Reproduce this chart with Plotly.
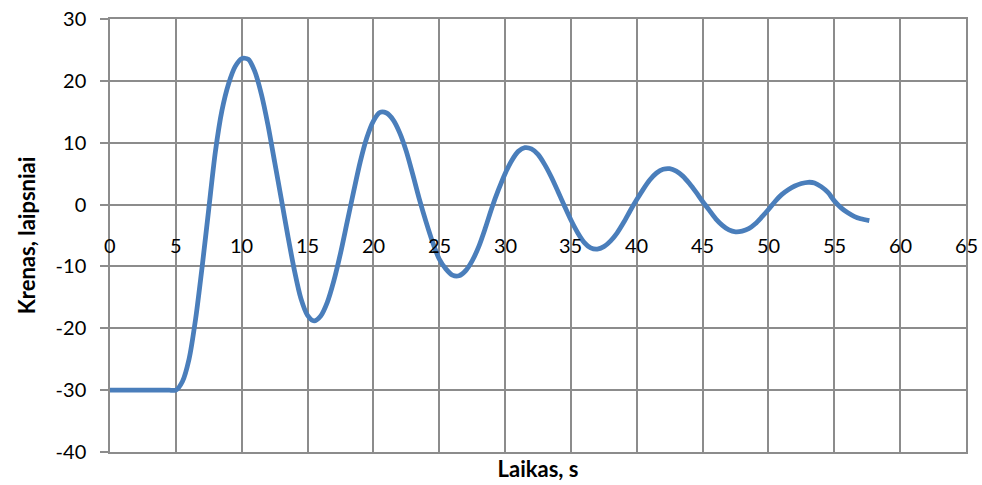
import plotly.graph_objects as go

# Heel angle over time (degrees) for a damped roll oscillation, sampled every 0.5 s
time_s = [0, 1, 2, 3, 4, 4.5, 5,
          5.5, 6, 6.5, 7, 7.5, 8, 8.5, 9, 9.5, 10,
          10.5, 11, 11.5, 12, 12.5, 13, 13.5, 14, 14.5, 15,
          15.5, 16, 16.5, 17, 17.5, 18, 18.5, 19, 19.5, 20,
          20.5, 21, 21.5, 22, 22.5, 23, 23.5, 24, 24.5, 25,
          25.5, 26, 26.5, 27, 27.5, 28, 28.5, 29, 29.5, 30,
          30.5, 31, 31.5, 32, 32.5, 33, 33.5, 34, 34.5, 35,
          35.5, 36, 36.5, 37, 37.5, 38, 38.5, 39, 39.5, 40,
          40.5, 41, 41.5, 42, 42.5, 43, 43.5, 44, 44.5, 45,
          45.5, 46, 46.5, 47, 47.5, 48, 48.5, 49, 49.5, 50,
          50.5, 51, 51.5, 52, 52.5, 53, 53.5, 54, 54.5, 55,
          55.5, 56, 56.5, 57, 57.66]
heel_deg = [-30, -30, -30, -30, -30, -30, -30,
            -28.6, -25, -18.5, -10, -0.7, 8.5, 15.2, 19.5, 22.3, 23.6,
            23.5, 21.5, 17.8, 12.8, 6.9, 1.0, -5.0, -10.6, -15.2, -17.9,
            -18.8, -18.0, -15.8, -12.3, -7.9, -2.9, 2.1, 6.9, 10.8, 13.5,
            14.9, 14.8, 13.7, 11.6, 8.6, 4.8, 0.8, -2.8, -6.1, -8.8,
            -10.4, -11.4, -11.5, -10.7, -9.1, -6.8, -3.8, -0.5, 2.4, 5.0,
            7.1, 8.6, 9.2, 9.0, 8.1, 6.5, 4.5, 2.2, -0.2, -2.5,
            -4.5, -6.1, -7.0, -7.2, -6.8, -5.9, -4.6, -2.9, -1.0, 0.8,
            2.5, 4.0, 5.1, 5.7, 5.8, 5.4, 4.6, 3.4, 2.0, 0.5,
            -0.9, -2.3, -3.35, -4.1, -4.4, -4.3, -3.9, -3.1, -2.0, -0.8,
            0.5, 1.6, 2.4, 3.0, 3.4, 3.6, 3.5, 2.9, 2.0, 0.6,
            -0.5, -1.3, -1.9, -2.3, -2.6]

x_ticks = [0, 5, 10, 15, 20, 25, 30, 35, 40, 45, 50, 55, 60, 65]
y_ticks = [-40, -30, -20, -10, 0, 10, 20, 30]
y_tick_text = ["-40", "-30", "-20", "-10", "0", "10", "20", "30"]

GRID = "#8c8c8c"
FONT = "Lato"

fig = go.Figure()
fig.add_trace(go.Scatter(
    x=time_s, y=heel_deg, mode="lines",
    line=dict(color="#4a7ebb", width=4.8, shape="spline", smoothing=0.8),
    showlegend=False, hoverinfo="x+y",
))

# Time labels sit along the zero line, as the horizontal axis crosses there
for t in x_ticks:
    fig.add_annotation(
        x=t, y=0, xref="x", yref="y", text=str(t), showarrow=False,
        yanchor="middle", xanchor="center", yshift=-40,
        font=dict(family=FONT, size=20, color="#000000"),
    )

fig.update_layout(
    width=982, height=485,
    margin=dict(l=110, r=16, t=19, b=33),
    paper_bgcolor="white", plot_bgcolor="white",
    font=dict(family=FONT, size=20, color="#000000"),
)
fig.update_xaxes(
    range=[0, 65], tickvals=x_ticks, showticklabels=False,
    showgrid=True, gridcolor=GRID, gridwidth=1.5,
    showline=True, linecolor=GRID, linewidth=1.5, mirror=True,
    zeroline=False, ticks="",
    title=dict(text="<b>Laikas, s</b>", font=dict(family=FONT, size=22), standoff=9),
    automargin=False,
)
fig.update_yaxes(
    range=[-40, 30], tickvals=y_ticks, ticktext=y_tick_text,
    showgrid=True, gridcolor=GRID, gridwidth=1.5,
    showline=True, linecolor=GRID, linewidth=1.5, mirror=True,
    zeroline=True, zerolinecolor=GRID, zerolinewidth=1.5,
    ticks="outside", ticklen=8, tickcolor=GRID, tickwidth=1.5,
    ticklabelstandoff=10,
    tickfont=dict(family=FONT, size=20),
    title=dict(text="<b>Krenas, laipsniai</b>", font=dict(family=FONT, size=22), standoff=14),
    automargin=False,
)

fig.write_html("out.html")
